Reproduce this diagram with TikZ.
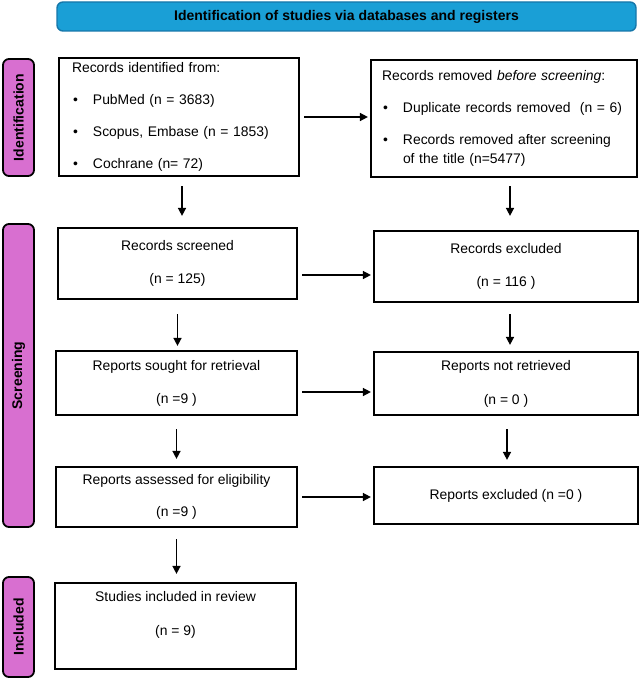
\documentclass[tikz,border=0pt]{standalone}
\usepackage{fontspec}
\setmainfont{Liberation Sans}
\usetikzlibrary{arrows.meta,positioning,calc}
\definecolor{bannerblue}{HTML}{1A9FD6}
\definecolor{banneredge}{HTML}{1677AA}
\definecolor{phasepink}{HTML}{D86FD0}
\newcommand{\itm}{\makebox[21pt][l]{\hspace{1pt}\textbullet}}

\begin{document}
\begin{tikzpicture}[
  x=1pt, y=-1pt,
  font=\fontsize{13.9}{19}\selectfont,
  stepbox/.style={draw, line width=2.2pt, rectangle, align=center, inner sep=0pt},
  phase/.style={draw, line width=1.8pt, rounded corners=6pt, fill=phasepink, rotate=90, minimum height=31pt, inner sep=0pt, font=\fontsize{14}{16}\selectfont\bfseries},
  banner/.style={draw=banneredge, line width=1.4pt, rounded corners=6pt, fill=bannerblue, font=\fontsize{14}{16}\selectfont\bfseries},
  arr/.style={-{Triangle[length=8pt,width=8pt]}, line width=1.5pt},
  down/.style={arr, shorten <=9pt, shorten >=11pt},
  side/.style={arr, shorten <=4pt, shorten >=2pt}
]
\useasboundingbox (0,0) rectangle (642,679);

\node[banner, minimum width=579pt, minimum height=29pt] (banner) at (346.5,16.5) {Identification of studies via databases and registers};

\node[phase, minimum width=117pt] (idphase) at (18.5,117.5) {Identification};
\node[phase, minimum width=303pt] (scphase) at (18.5,375.5) {Screening};
\node[phase, minimum width=100pt] (inphase) at (18.5,627) {Included};

\node[stepbox, align=left, inner xsep=13pt, text width=214pt, minimum height=118pt] (recid) at (179,117) {Records identified from:\\[13pt]\itm PubMed (n = 3683)\\[13pt]\itm Scopus, Embase (n = 1853)\\[13pt]\itm Cochrane (n= 72)};
\node[stepbox, align=left, inner xsep=11pt, text width=244pt, minimum height=117pt] (recrem) at (504,118.5) {Records removed \textit{before screening}:\\[13pt]\itm Duplicate records removed\ \ (n = 6)\\[13pt]\itm Records removed after screening\\\hspace*{21pt}of the title (n=5477)};

\node[stepbox, minimum width=239pt, minimum height=71pt] (screened) at (177.5,263.5) {Records screened\\[14pt](n = 125)};
\node[stepbox, minimum width=264pt, minimum height=71pt] (excl) at (506,266.5) {Records excluded\\[14pt](n = 116 )};
\node[stepbox, minimum width=241pt, minimum height=64pt] (sought) at (176.5,383) {Reports sought for retrieval\\[14pt](n =9 )};
\node[stepbox, minimum width=264pt, minimum height=63pt] (notret) at (506,383.5) {Reports not retrieved\\[15pt](n = 0 )};
\node[stepbox, minimum width=241pt, minimum height=60pt] (assessed) at (176.5,497) {Reports assessed for eligibility\\[13pt](n =9 )};
\node[stepbox, minimum width=264pt, minimum height=57pt] (repexcl) at (506,495.5) {Reports excluded (n =0 )};
\node[stepbox, minimum width=241pt, minimum height=86pt] (incl) at (175.5,626) {};
\node[align=center] (incltxt) at (175.5,615) {Studies included in review\\[15pt](n = 9)};

\draw[side] (recid.east) -- (recid.east -| recrem.west);
\draw[side] ([yshift=-11.5pt]screened.east) -- ([yshift=-11.5pt]screened.east -| excl.west);
\draw[side] ([yshift=-9pt]sought.east) -- ([yshift=-9pt]sought.east -| notret.west);
\draw[side] (assessed.east) -- (assessed.east -| repexcl.west);

\draw[down] ([xshift=3pt]recid.south) -- ([xshift=3pt]recid.south |- screened.north);
\draw[down, shorten <=8pt, shorten >=14pt] ([xshift=6pt]recrem.south) -- ([xshift=6pt]recrem.south |- excl.north);
\draw[down, shorten <=14pt, shorten >=4pt] (screened.south) -- (screened.south |- sought.north);
\draw[down, shorten <=11pt, shorten >=6pt] ([xshift=4pt]excl.south) -- ([xshift=4pt]excl.south |- notret.north);
\draw[down, shorten <=13pt, shorten >=7pt] (sought.south) -- (sought.south |- assessed.north);
\draw[down, shorten <=13pt, shorten >=6pt] ([xshift=1pt]notret.south) -- ([xshift=1pt]notret.south |- repexcl.north);
\draw[down, shorten <=11pt, shorten >=8pt] (assessed.south) -- (assessed.south |- incl.north);
\end{tikzpicture}
\end{document}
